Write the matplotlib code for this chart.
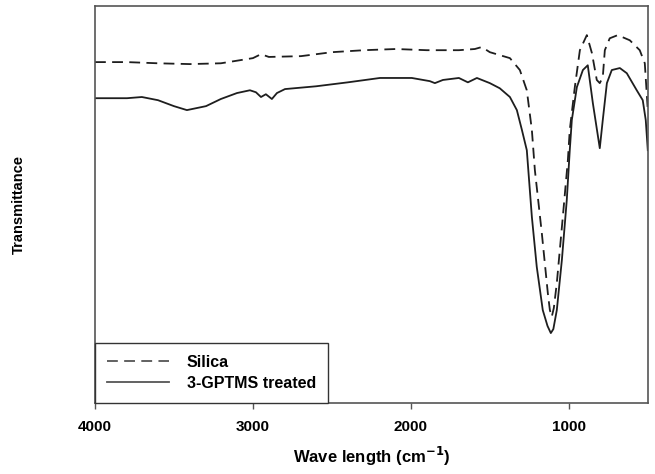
import numpy as np
import matplotlib.pyplot as plt

plt.rcParams['font.family'] = ['Liberation Sans', 'DejaVu Sans']

# Silica (dashed)
silica_wave = [4000, 3797, 3601, 3399, 3203, 3000, 2949, 2899, 2696, 2500,
               2297, 2095, 1899, 1696, 1595, 1551, 1500, 1373, 1310, 1266,
               1234, 1215, 1171, 1133, 1120, 1108, 1095, 1076, 1038, 1006,
               994, 962, 930, 886, 854, 823, 804, 785, 772, 741,
               690, 614, 551, 519, 500]
silica_t = [85.9, 85.9, 85.6, 85.4, 85.6, 86.9, 87.9, 87.2, 87.4, 88.4,
            88.9, 89.2, 88.9, 88.9, 89.2, 89.7, 88.4, 86.9, 83.9, 78.8,
            68.8, 58.7, 42.8, 27.7, 23.4, 21.7, 23.9, 30.2, 46.9, 61.2,
            68.8, 79.6, 88.9, 92.7, 88.2, 81.4, 80.6, 82.1, 88.9, 91.9,
            92.7, 91.4, 88.9, 85.6, 73.8]

# 3-GPTMS treated (solid)
treated_wave = [4000, 3797, 3703, 3601, 3500, 3418, 3297, 3203, 3101, 3019,
                2981, 2949, 2918, 2880, 2848, 2797, 2601, 2399, 2196, 1994,
                1880, 1848, 1797, 1696, 1639, 1582, 1500, 1437, 1373, 1329,
                1297, 1266, 1234, 1203, 1165, 1135, 1114, 1098, 1076, 1044,
                1013, 994, 981, 949, 911, 880, 848, 804, 785, 759,
                728, 677, 633, 570, 532, 513, 500]
treated_t = [76.8, 76.8, 77.1, 76.3, 74.8, 73.8, 74.8, 76.6, 78.1, 78.8,
             78.3, 77.1, 77.8, 76.6, 78.1, 79.1, 79.8, 80.8, 81.9, 81.9,
             81.1, 80.6, 81.4, 81.9, 80.8, 81.9, 80.6, 79.3, 77.1, 73.8,
             68.8, 63.7, 46.9, 34.3, 23.4, 19.4, 17.6, 18.6, 23.4, 36.0,
             51.1, 63.7, 71.3, 79.6, 83.9, 85.1, 75.6, 64.2, 71.3, 80.6,
             83.9, 84.4, 83.1, 78.8, 76.3, 71.3, 63.7]

xticks = [4000, 3000, 2000, 1000]

fig = plt.figure(figsize=(6.55, 4.74), dpi=100)
ax = fig.add_axes([0.145, 0.150, 0.844, 0.837])

line_col = '#1e1e1e'
ax.plot(silica_wave, silica_t, color=line_col, lw=1.3, ls=(0, (6, 3.5)), label='Silica')
ax.plot(treated_wave, treated_t, color=line_col, lw=1.3, label='3-GPTMS treated')

ax.set_xlim(4000, 500)
ax.set_ylim(0, 100)
ax.set_xticks(xticks)
ax.set_xticklabels([str(t) for t in xticks], fontsize=11, fontweight='bold')
ax.set_yticks([])
ax.tick_params(axis='x', direction='out', length=4, width=1, color='#555555', pad=8)

for sp in ax.spines.values():
    sp.set_color('#555555')
    sp.set_linewidth(1.2)

ax.set_xlabel(r'Wave length (cm$^{\mathbf{-1}}$)', fontsize=12, fontweight='bold', labelpad=8)
ax.set_ylabel('Transmittance', fontsize=10.5, fontweight='bold', labelpad=50)

leg = ax.legend(loc='lower left', bbox_to_anchor=(0, 0), borderaxespad=0,
                fancybox=False, framealpha=1, edgecolor='#333333',
                prop={'size': 11.5, 'weight': 'bold'}, handlelength=3.9,
                handletextpad=1.1, borderpad=0.75, labelspacing=0.4,
                handleheight=0.8)
leg.get_frame().set_linewidth(1.0)
for h in leg.get_lines():
    h.set_color('#555555')

fig.savefig('out.png', dpi=100)
